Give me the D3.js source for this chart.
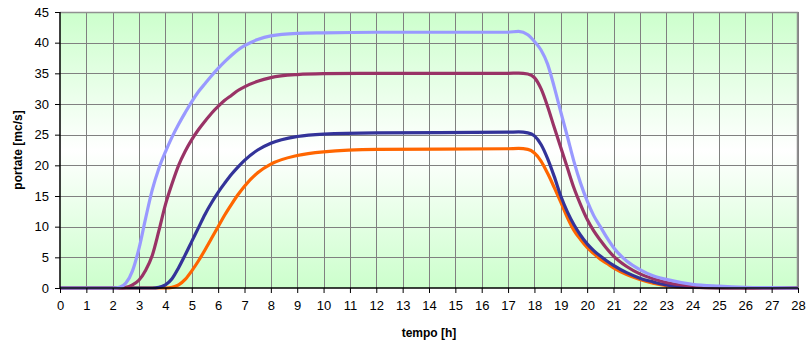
<!DOCTYPE html>
<html>
<head>
<meta charset="utf-8">
<script src="https://cdn.jsdelivr.net/npm/d3@7"></script>
<style>
  body { margin: 0; background: #fff; }
  svg { display: block; font-family: Arial, "Liberation Sans", sans-serif; }
  .tick text { font-size: 13px; fill: #000; }
  .axis-title { font-size: 12px; font-weight: bold; }
</style>
</head>
<body>
<div id="chart"></div>
<script>
// tempo [h]
var hours = [0, 2, 2.25, 2.5, 2.75, 3, 3.25, 3.5, 3.75, 4, 4.25, 4.5, 4.75, 5, 5.25, 5.5, 5.75, 6, 6.25, 6.5, 6.75, 7, 7.5, 8, 9, 10, 12,
             17, 17.4, 17.75, 18, 18.25, 18.5, 18.75, 19, 19.25, 19.5, 19.75, 20, 20.25, 20.5, 20.75, 21, 21.5, 22, 22.5, 23, 24, 25, 26, 27, 28];

// portate [mc/s], una serie per idrogramma
var seriesLavender = [0, 0, 0.1, 0.8, 2.8, 6.5, 11.4, 16, 19.5, 22.2, 24.6, 26.7, 28.6, 30.4, 32.0, 33.3, 34.6, 35.8, 36.9, 37.9, 38.8, 39.5, 40.5, 41.1, 41.5, 41.6, 41.7,
                      41.7, 41.85, 41.3, 40.2, 38.8, 36.5, 32.8, 28.7, 24.7, 20.6, 17.1, 14.2, 11.8, 10.0, 8.2, 6.6, 4.4, 3.0, 2.0, 1.4, 0.6, 0.3, 0.12, 0.05, 0];
var seriesMaroon   = [0, 0, 0, 0.1, 0.5, 1.3, 2.9, 5.3, 9.3, 13.6, 17, 20, 22.3, 24.2, 25.8, 27.2, 28.5, 29.6, 30.6, 31.4, 32.2, 32.8, 33.7, 34.3, 34.8, 34.95, 35,
                      35, 35.05, 34.9, 34.3, 32.5, 29.6, 26.2, 22.9, 19.6, 16.3, 13.6, 11.2, 9.3, 7.8, 6.4, 5.2, 3.5, 2.3, 1.5, 0.9, 0.3, 0.1, 0.03, 0, 0];
var seriesBlue     = [0, 0, 0, 0, 0, 0, 0, 0, 0.1, 0.5, 1.5, 3.3, 5.4, 7.6, 9.8, 12, 13.9, 15.6, 17.1, 18.5, 19.7, 20.8, 22.5, 23.6, 24.7, 25.1, 25.3,
                      25.4, 25.45, 25.3, 24.8, 23.4, 21.1, 18.2, 15, 12.4, 10.3, 8.6, 7.2, 6.1, 5.2, 4.4, 3.7, 2.5, 1.6, 1.0, 0.5, 0.12, 0, 0, 0, 0];
var seriesOrange   = [0, 0, 0, 0, 0, 0, 0, 0, 0, 0, 0.1, 0.5, 1.4, 2.8, 4.4, 6.2, 8.1, 10, 11.9, 13.6, 15.2, 16.6, 18.8, 20.2, 21.6, 22.2, 22.6,
                      22.7, 22.75, 22.6, 22, 20.7, 18.7, 16.4, 14, 11.5, 9.4, 7.9, 6.6, 5.6, 4.7, 4.0, 3.3, 2.2, 1.4, 0.8, 0.4, 0.08, 0, 0, 0, 0];

var xTicks = d3.range(0, 29, 1);
var yTicks = d3.range(0, 46, 5);

var seriesColors = ['#ff6600', '#333399', '#993366', '#9999ff'];

var WIDTH = 807, HEIGHT = 347;
var margin = {top: 12, right: 9, bottom: 59, left: 60};
var w = WIDTH - margin.left - margin.right;
var h = HEIGHT - margin.top - margin.bottom;

var svg = d3.select('#chart').append('svg')
    .attr('width', WIDTH)
    .attr('height', HEIGHT);

// sfondo sfumato verde-bianco-verde
var grad = svg.append('defs').append('linearGradient')
    .attr('id', 'bkg')
    .attr('x1', 0).attr('y1', 0).attr('x2', 0).attr('y2', 1);
grad.append('stop').attr('offset', '0%').attr('stop-color', '#ccffcc');
grad.append('stop').attr('offset', '50%').attr('stop-color', '#ffffff');
grad.append('stop').attr('offset', '100%').attr('stop-color', '#ccffcc');

var g = svg.append('g').attr('transform', 'translate(' + margin.left + ',' + margin.top + ')');

var x = d3.scaleLinear().domain([0, 28]).range([0, w]);
var y = d3.scaleLinear().domain([0, 45]).range([h, 0]);

g.append('rect')
    .attr('width', w)
    .attr('height', h)
    .attr('fill', 'url(#bkg)');

// griglia
g.append('g')
    .selectAll('line.vgrid')
    .data(xTicks.slice(1))
    .enter()
    .append('line')
    .attr('x1', d => Math.round(x(d)) + 0.5)
    .attr('x2', d => Math.round(x(d)) + 0.5)
    .attr('y1', 0)
    .attr('y2', h)
    .attr('stroke', '#808080');
g.append('g')
    .selectAll('line.hgrid')
    .data(yTicks.slice(1))
    .enter()
    .append('line')
    .attr('x1', 0)
    .attr('x2', w)
    .attr('y1', d => Math.round(y(d)) + 0.5)
    .attr('y2', d => Math.round(y(d)) + 0.5)
    .attr('stroke', '#808080');

// bordo superiore e destro
g.append('path')
    .attr('d', 'M0,0.5H' + (w - 0.5) + 'V' + h)
    .attr('fill', 'none')
    .attr('stroke', '#909090')
    .attr('stroke-width', 1.5);

// curve
var allSeries = [seriesOrange, seriesBlue, seriesMaroon, seriesLavender];
var line = d3.line()
    .x((d, i) => x(hours[i]))
    .y(d => y(d))
    .curve(d3.curveMonotoneX);

g.selectAll('path.serie')
    .data(allSeries)
    .enter()
    .append('path')
    .attr('class', 'serie')
    .attr('d', line)
    .attr('fill', 'none')
    .attr('stroke', (d, i) => seriesColors[i])
    .attr('stroke-width', 3.2)
    .attr('stroke-linejoin', 'round');

// assi
var xAxis = g.append('g')
    .attr('transform', 'translate(0,' + h + ')')
    .call(d3.axisBottom(x).tickValues(xTicks).tickSize(5).tickPadding(8).tickFormat(d3.format('d')));
var yAxis = g.append('g')
    .call(d3.axisLeft(y).tickValues(yTicks).tickSize(5).tickPadding(6).tickFormat(d3.format('d')));

[xAxis, yAxis].forEach(function (a) {
    a.select('.domain').attr('stroke', '#000').attr('stroke-width', 1.5);
    a.selectAll('.tick line').attr('stroke', '#000');
    a.attr('font-family', null).attr('font-size', null);
});
xAxis.select('.domain').attr('d', 'M0,0H' + w);
yAxis.select('.domain').attr('d', 'M0,0V' + h);

svg.append('text')
    .attr('class', 'axis-title')
    .attr('x', margin.left + w / 2)
    .attr('y', 337)
    .attr('text-anchor', 'middle')
    .text('tempo [h]');

svg.append('text')
    .attr('class', 'axis-title')
    .attr('transform', 'translate(22,' + (margin.top + h / 2) + ') rotate(-90)')
    .attr('text-anchor', 'middle')
    .text('portate [mc/s]');
</script>
</body>
</html>
